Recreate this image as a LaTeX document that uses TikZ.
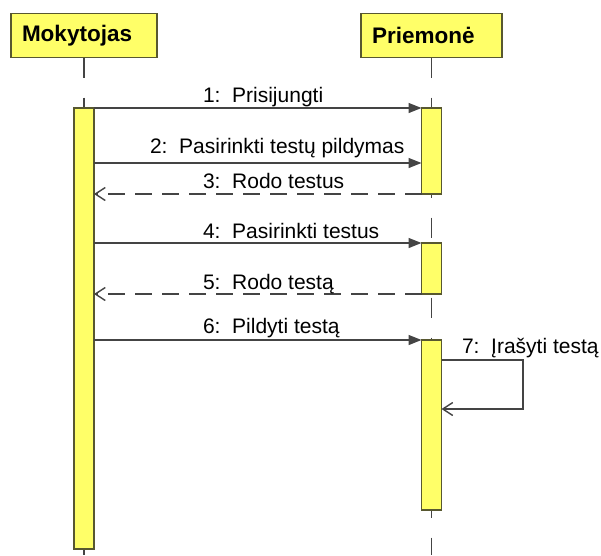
\documentclass[tikz,border=0pt]{standalone}
\usepackage{fontspec}
\setmainfont{Liberation Sans}
\usetikzlibrary{arrows.meta}

\definecolor{actfill}{RGB}{255,255,104}
\definecolor{boxedge}{RGB}{88,88,48}
\definecolor{msgcol}{RGB}{68,68,68}

\begin{document}
\begin{tikzpicture}[x=1pt,y=-1pt,
  every node/.style={inner sep=0pt, outer sep=0pt},
  objbox/.style={draw=boxedge, line width=1.4pt, fill=actfill,
    minimum height=44pt, inner xsep=11pt, align=left,
    font=\fontsize{22.5}{26}\selectfont\bfseries},
  actbox/.style={draw=boxedge, line width=1.4pt, fill=actfill,
    minimum width=20pt, anchor=north},
  lifeline/.style={draw=msgcol, line width=1.4pt, dash pattern=on 20pt off 20pt},
  callmsg/.style={draw=msgcol, line width=1.4pt,
    -{Triangle[length=13pt,width=10pt]}},
  replymsg/.style={draw=msgcol, line width=1.4pt, dash pattern=on 17pt off 10pt,
    -{Straight Barb[length=10pt,width=13pt]}},
  selfmsg/.style={draw=msgcol, line width=1.4pt,
    -{Straight Barb[length=10pt,width=13pt]}},
  msglabel/.style={anchor=base west, font=\fontsize{21}{25}\selectfont}
]
\useasboundingbox (0,0) rectangle (601,555);
\fill[white] (0,0) rectangle (601,555);

% participants
\node[objbox, minimum width=146pt, text width=124pt] (mok) at (84,35.5) {Mokytojas};
\node[objbox, minimum width=141pt, text width=119pt] (prm) at (431.5,35.5) {Priemonė};

% lifelines
\coordinate (mokEnd) at (84,555);
\coordinate (prmEnd) at (431.5,555);
\draw[lifeline] (mok.south) -- (mokEnd);
\draw[lifeline] (prm.south) -- (prmEnd);

% activation bars
\node[actbox, minimum height=441pt] (actM) at (84,108) {};
\node[actbox, minimum height=86pt] (actP1) at (431.5,108) {};
\node[actbox, minimum height=51pt] (actP2) at (431.5,243) {};
\node[actbox, minimum height=170pt] (actP3) at (431.5,340) {};

% messages
\coordinate (m2) at (0,163);
\coordinate (s1) at (0,360);
\coordinate (s2) at (523,409);

\draw[callmsg] (actM.north east) -- (actP1.north west);
\node[msglabel] (l1) at (203,102) {1:\ \ Prisijungti};

\draw[callmsg] (actM.east |- m2) -- (actP1.west |- m2);
\node[msglabel] (l2) at (150,153) {2:\ \ Pasirinkti testų pildymas};

\draw[replymsg] (actP1.south west) -- (actM.east |- actP1.south);
\node[msglabel] (l3) at (203,188) {3:\ \ Rodo testus};

\draw[callmsg] (actM.east |- actP2.north) -- (actP2.north west);
\node[msglabel] (l4) at (203,238) {4:\ \ Pasirinkti testus};

\draw[replymsg] (actP2.south west) -- (actM.east |- actP2.south);
\node[msglabel] (l5) at (203,289) {5:\ \ Rodo testą};

\draw[callmsg] (actM.east |- actP3.north) -- (actP3.north west);
\node[msglabel] (l6) at (203,333) {6:\ \ Pildyti testą};

\draw[selfmsg] (actP3.east |- s1) -| (s2) -- (actP3.east |- s2);
\node[msglabel] (l7) at (462,353) {7:\ \ Įrašyti testą};
\end{tikzpicture}
\end{document}
